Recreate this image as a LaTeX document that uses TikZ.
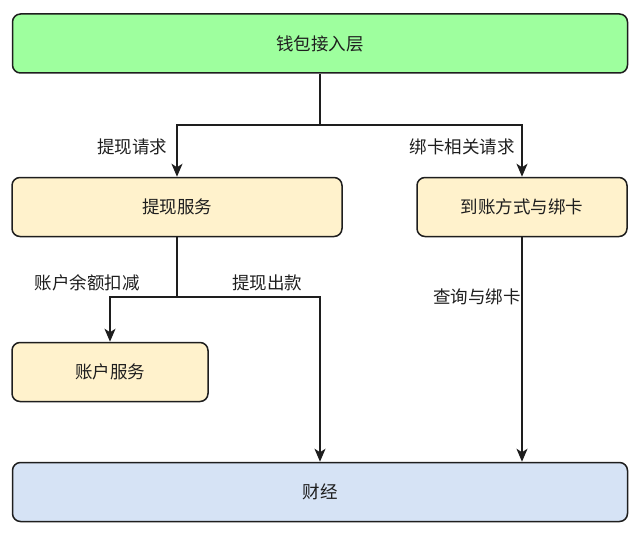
\documentclass[tikz,border=0pt]{standalone}
\usepackage{fontspec}
\setmainfont{Noto Sans CJK SC}
\usetikzlibrary{positioning,arrows.meta}
\definecolor{layergreen}{HTML}{9EFF9E}
\definecolor{svcyellow}{HTML}{FFF2CC}
\definecolor{finblue}{HTML}{D6E3F5}
\definecolor{edgegray}{HTML}{1E1E1E}

\begin{document}
\begin{tikzpicture}[x=1pt,y=-1pt,line width=1.5pt,
			box/.style={draw=edgegray,line width=1.5pt,rounded corners=8pt,minimum height=59pt,
				font=\fontsize{17.5}{21}\selectfont,text=edgegray},
			lbl/.style={font=\fontsize{17.5}{21}\selectfont,text=edgegray,inner sep=0pt},
			link/.style={draw=edgegray},
			arr/.style={link,-{Stealth[length=13pt,width=11pt,inset=3.5pt]}}]
			\useasboundingbox (0,0) rectangle (640,535);
			% boxes
			\node (access) [box,fill=layergreen,minimum width=615pt] at (320,43.5) {钱包接入层};
			\node (withdraw) [box,fill=svcyellow,minimum width=330pt] at (177,207) {提现服务};
			\node (bindcard) [box,fill=svcyellow,minimum width=210pt] at (522,207) {到账方式与绑卡};
			\node (account) [box,fill=svcyellow,minimum width=196pt] at (110,372) {账户服务};
			\node (finance) [box,fill=finblue,minimum width=615pt] at (320,492) {财经};
			% connectors
			\coordinate (fork) at (320,125);
			\coordinate (fork2) at (177,297);
			\draw [link] (access.south) -- (fork);
			\draw [arr] (fork) -| (withdraw.north);
			\draw [arr] (fork) -| (bindcard.north);
			\draw [link] (withdraw.south) -- (fork2);
			\draw [arr] (fork2) -| (account.north);
			\draw [arr] (fork2) -| (finance.north);
			\draw [arr] (bindcard.south) -- (bindcard.south |- finance.north);
			% edge labels
			\node (reqwithdraw) [lbl] at (132,147) {提现请求};
			\node (reqbind) [lbl] at (462,147) {绑卡相关请求};
			\node (deduct) [lbl] at (87,283) {账户余额扣减};
			\node (payout) [lbl] at (267,283) {提现出款};
			\node (query) [lbl] at (477,297) {查询与绑卡};
		\end{tikzpicture}
\end{document}
